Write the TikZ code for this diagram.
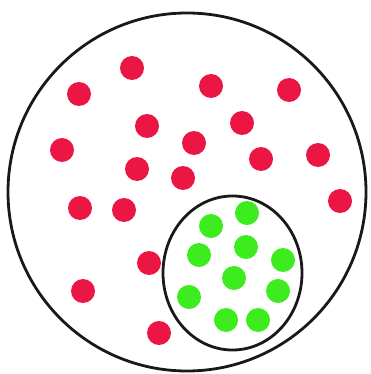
\documentclass[tikz,border=0pt]{standalone}
\usetikzlibrary{shapes.geometric}
\definecolor{dotred}{RGB}{236,22,68}
\definecolor{dotgreen}{RGB}{60,236,30}
\begin{document}
\begin{tikzpicture}[x=1pt,y=-1pt,
  rdot/.style={circle,fill=dotred,draw=none,minimum size=24pt,inner sep=0pt},
  gdot/.style={circle,fill=dotgreen,draw=none,minimum size=24pt,inner sep=0pt},
  setline/.style={draw=black!90,line width=2.8pt}]
\useasboundingbox (0,0) rectangle (371,374);
\node[setline,circle,minimum size=358pt,inner sep=0pt] (universe) at (187,192) {};
\node[setline,ellipse,minimum width=139pt,minimum height=154pt,inner sep=0pt] (subset) at (232.5,273) {};
\foreach \i/\x/\y in {1/79/94,2/132/68,3/211/86,4/289/90,5/147/126,6/242/123,7/62/150,8/194/143,9/261/159,10/318/155,11/137/169,12/183/178,13/80/208,14/124/210,15/340/201,16/149/263,17/83/291,18/159/333}
  \node[rdot] (r\i) at (\x,\y) {};
\foreach \i/\x/\y in {1/211/226,2/247/213,3/199/255,4/246/247,5/283/260,6/234/278,7/189/297,8/278/291,9/226/320,10/258/320}
  \node[gdot] (g\i) at (\x,\y) {};
\end{tikzpicture}
\end{document}
